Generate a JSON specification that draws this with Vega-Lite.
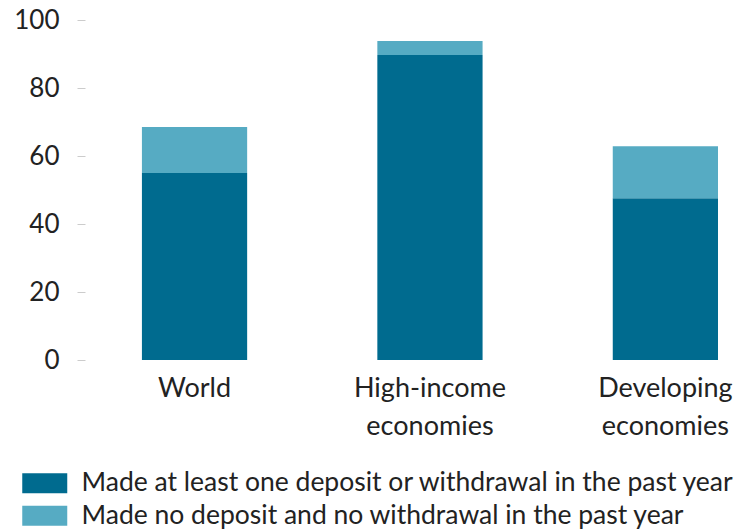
{
  "$schema": "https://vega.github.io/schema/vega-lite/v6.json",
  "width": 650,
  "height": 340,
  "autosize": {"type": "none"},
  "padding": {"left": 85, "top": 20, "right": 4, "bottom": 169},
  "background": "white",
  "config": {
    "view": {"stroke": null},
    "font": "Lato",
    "text": {"color": "#222222"}
  },
  "data": {
    "values": [
      {"region": "World", "type": "Made at least one deposit or withdrawal in the past year", "value": 55, "ord": 1},
      {"region": "World", "type": "Made no deposit and no withdrawal in the past year", "value": 13.5, "ord": 2},
      {"region": "High-income economies", "type": "Made at least one deposit or withdrawal in the past year", "value": 89.7, "ord": 1},
      {"region": "High-income economies", "type": "Made no deposit and no withdrawal in the past year", "value": 4.1, "ord": 2},
      {"region": "Developing economies", "type": "Made at least one deposit or withdrawal in the past year", "value": 47.6, "ord": 1},
      {"region": "Developing economies", "type": "Made no deposit and no withdrawal in the past year", "value": 15.3, "ord": 2}
    ]
  },
  "mark": {"type": "bar"},
  "encoding": {
    "x": {
      "field": "region",
      "type": "nominal",
      "sort": ["World", "High-income economies", "Developing economies"],
      "scale": {"paddingInner": 0.553, "paddingOuter": 0.157, "align": 0.77},
      "axis": {
        "title": null,
        "labelAngle": 0,
        "domain": false,
        "ticks": false,
        "labelFontSize": 27,
        "labelColor": "#222222",
        "labelPadding": 15,
        "labelLineHeight": 38,
        "labelExpr": "datum.value == 'World' ? 'World' : split(datum.value, ' ')"
      }
    },
    "y": {
      "field": "value",
      "type": "quantitative",
      "stack": "zero",
      "scale": {"domain": [0, 100]},
      "axis": {
        "title": null,
        "values": [0, 20, 40, 60, 80, 100],
        "grid": false,
        "domain": false,
        "tickColor": "#cccccc",
        "tickSize": 8,
        "labelFontSize": 26,
        "labelColor": "#222222",
        "labelPadding": 18
      }
    },
    "color": {
      "field": "type",
      "type": "nominal",
      "scale": {
        "domain": ["Made at least one deposit or withdrawal in the past year", "Made no deposit and no withdrawal in the past year"],
        "range": ["#006b8f", "#56abc3"]
      },
      "legend": {
        "title": null,
        "orient": "none",
        "legendX": -53.5,
        "legendY": 450,
        "direction": "vertical",
        "symbolType": "M-2.25,-1H2.25V1H-2.25Z",
        "symbolSize": 400,
        "symbolStrokeWidth": 0,
        "labelFontSize": 26.5,
        "labelColor": "#222222",
        "labelOffset": 23.5,
        "labelLimit": 800,
        "rowPadding": 5.5
      }
    },
    "order": {"field": "ord", "type": "quantitative"}
  }
}
